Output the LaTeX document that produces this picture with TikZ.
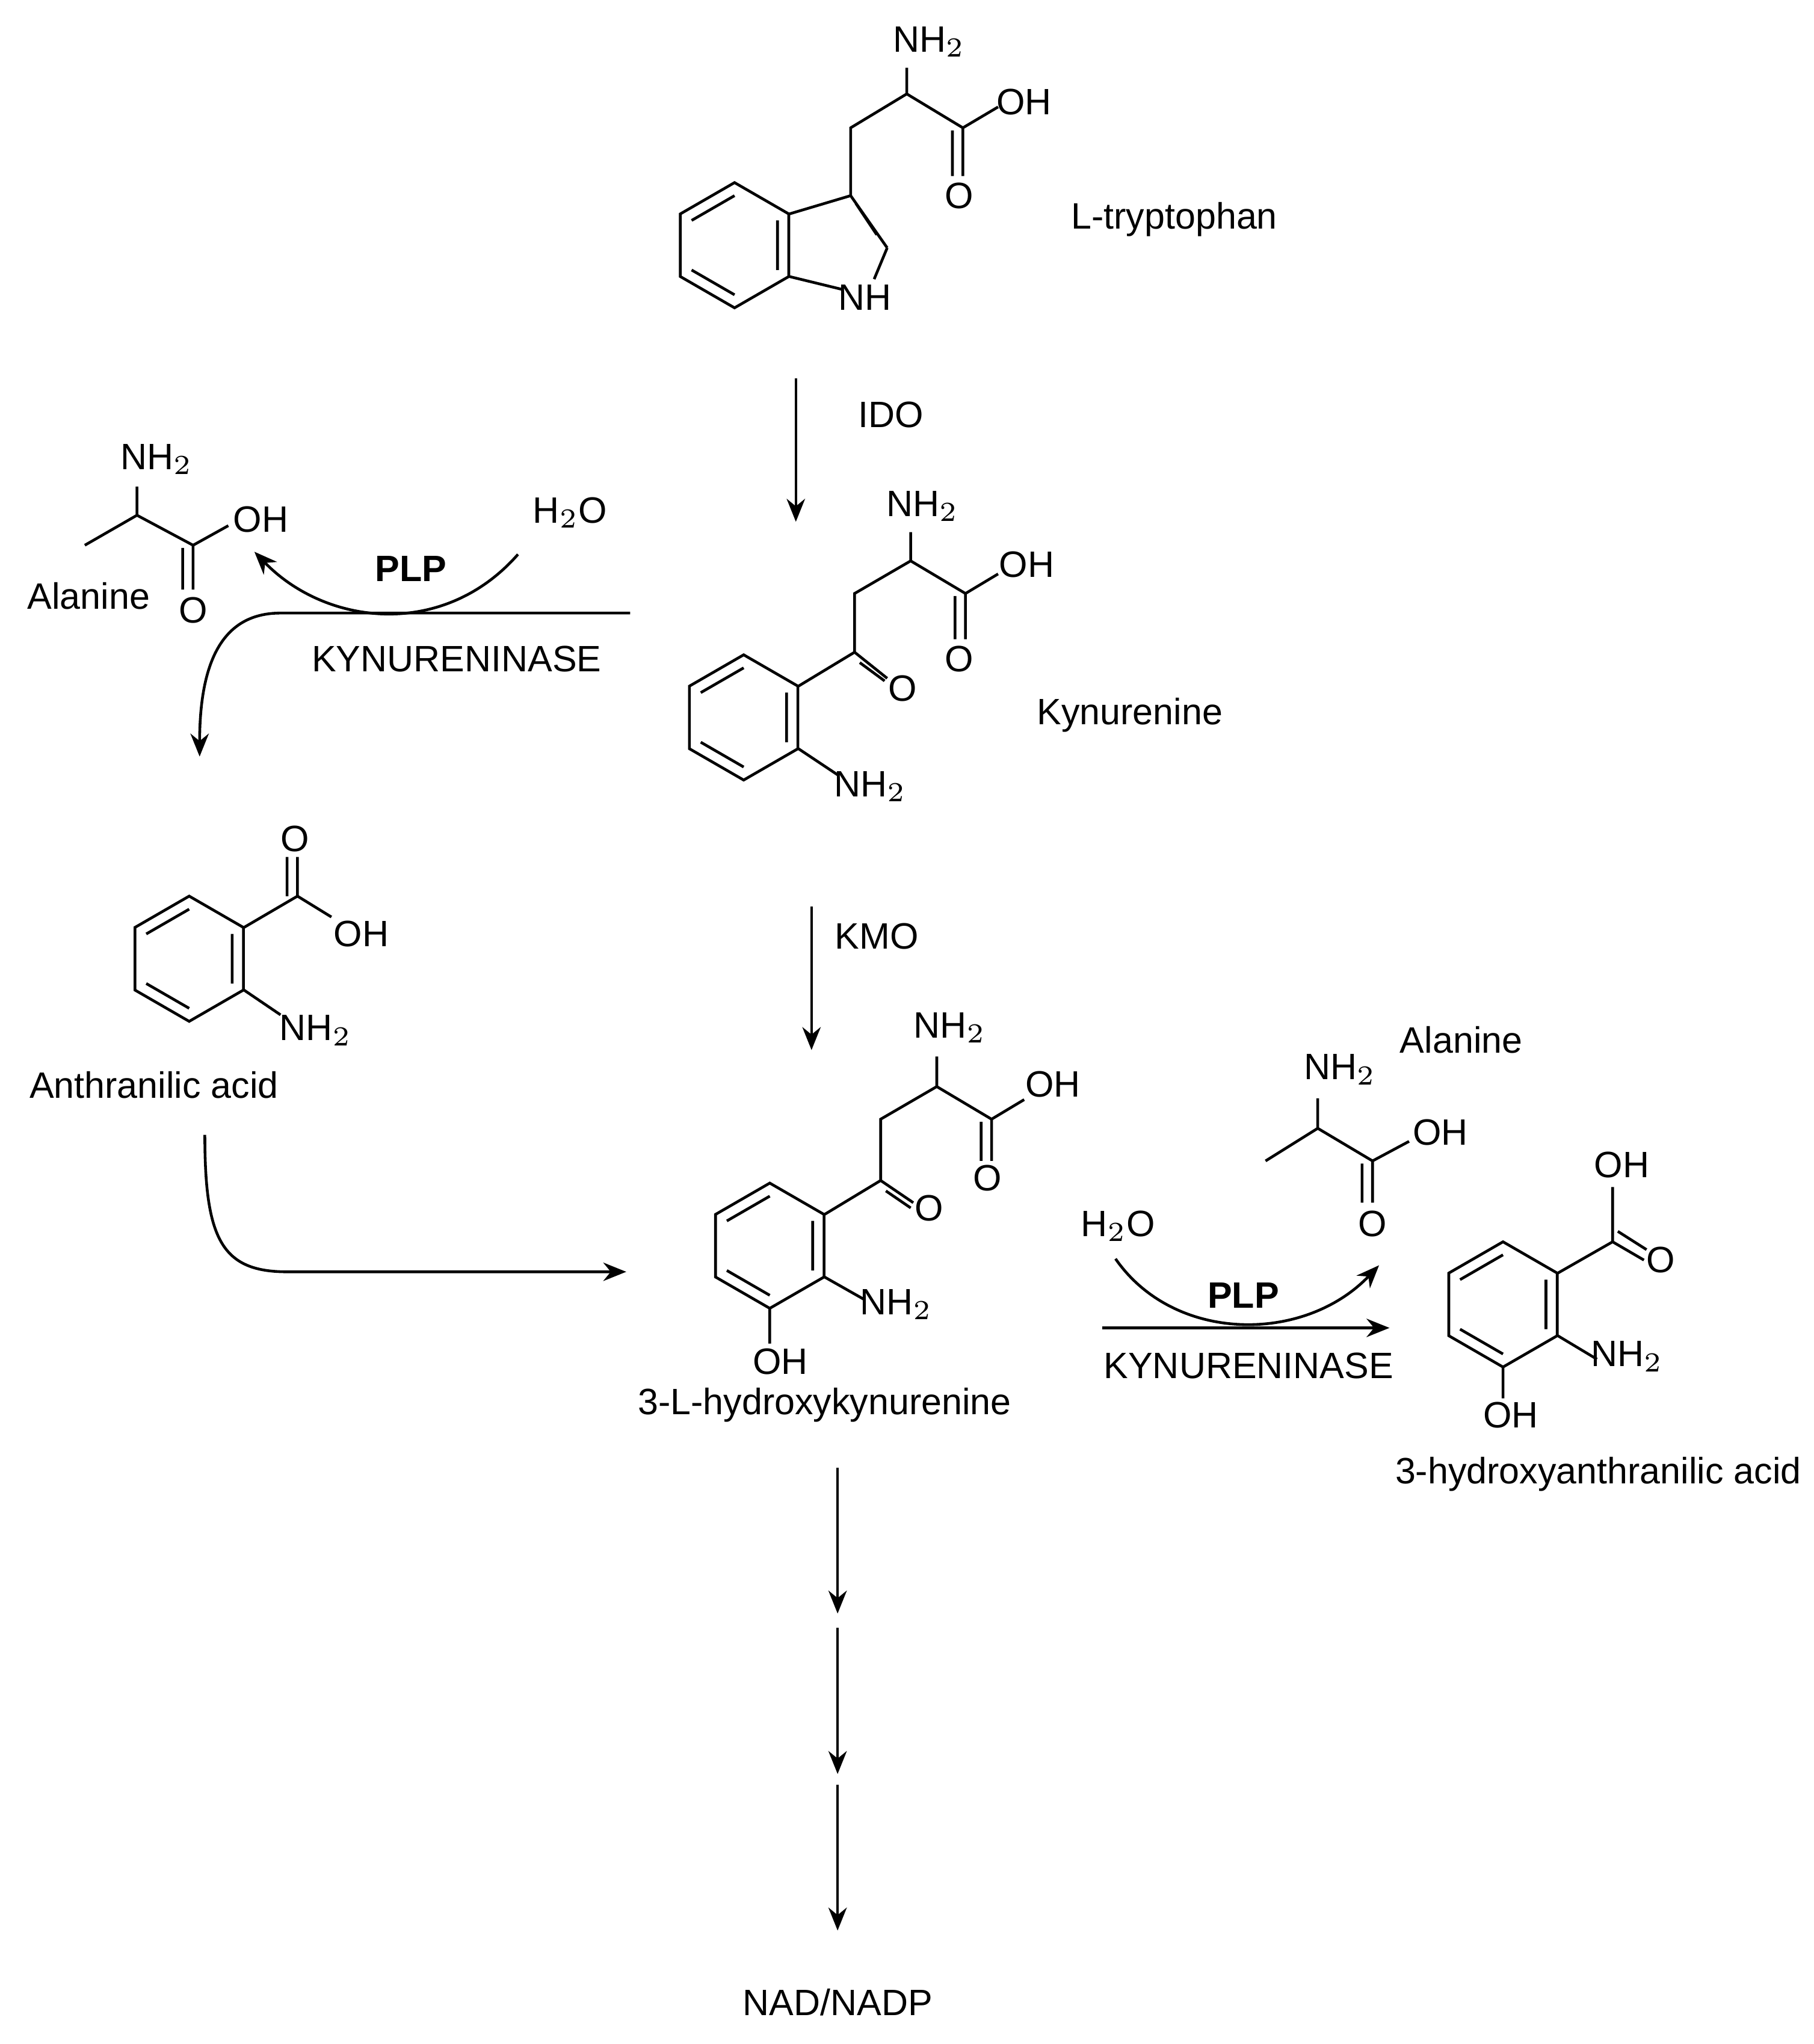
\documentclass[tikz,border=0pt]{standalone}
\usepackage{fontspec}
\setmainfont{Liberation Sans}
\usetikzlibrary{arrows.meta}
\begin{document}
\begin{tikzpicture}[x=0.01cm,y=-0.01cm,line width=0.6pt,
  lbl/.style={inner sep=0pt,font=\fontsize{8}{9}\selectfont},
  atm/.style={inner sep=0pt,font=\fontsize{8}{9}\selectfont},
  arr/.style={-{Stealth[length=5pt,width=4pt]}},
  ring/.pic={
    \draw (90:48)--(30:48)--(-30:48)--(-90:48)--(-150:48)--(150:48)--cycle;
    \draw (30:38)--(-30:38) (-90:38)--(-150:38) (150:38)--(90:38);
  }]
\useasboundingbox (0,0) rectangle (1390,1567);
% L-tryptophan
\pic at (563,188) {ring};
\draw (605,164)--(652,150) (652,150)--(680,190) (656,156)--(672,180) (680,190)--(670,214) (646,222)--(605,212);
\node[atm] (trpN) at (663,228) {NH};
\draw (652,150)--(652,98)--(695,72)--(738,98) (695,72)--(695,52) (738,98)--(765,82) (738,98)--(738,135) (730,100)--(730,135);
\node[atm] at (712,32) {NH$_2$};
\node[atm] at (785,78) {OH};
\node[atm] at (735,150) {O};
\node[lbl] (trp) at (900,168) {L-tryptophan};
% IDO
\coordinate (a1) at (610,290); \coordinate (a2) at (610,400);
\draw[arr] (a1)--(a2);
\node[lbl] at (683,318) {IDO};
% Kynurenine
\pic at (570,550) {ring};
\draw (612,526)--(655,500) (655,500)--(680,520) (659,508)--(678,522) (655,500)--(655,455)--(698,430)--(740,455) (698,430)--(698,408) (740,455)--(765,440) (740,455)--(740,490) (732,457)--(732,490) (612,574)--(642,594);
\node[atm] at (692,528) {O};
\node[atm] at (707,388) {NH$_2$};
\node[atm] at (787,433) {OH};
\node[atm] at (735,505) {O};
\node[atm] at (667,603) {NH$_2$};
\node[lbl] (kyn) at (866,548) {Kynurenine};
% left alanine
\draw (65,418)--(105,395)--(148,418) (105,395)--(105,373) (148,418)--(175,403) (148,418)--(148,452) (140,420)--(140,452);
\node[atm] at (120,352) {NH$_2$};
\node[atm] at (200,398) {OH};
\node[atm] at (148,468) {O};
\node[lbl] at (68,457) {Alanine};
\node[atm] at (437,393) {H$_2$O};
\node[lbl,font=\fontsize{8}{9}\selectfont\bfseries] at (315,436) {PLP};
\coordinate (c1) at (397,425); \coordinate (c2) at (195,423);
\draw[arr] (c1) .. controls (340,490) and (250,480) .. (c2);
\coordinate (d1) at (483,470); \coordinate (d2) at (153,580);
\draw[arr] (d1)--(215,470) .. controls (175,470) and (153,500) .. (d2);
\node[lbl] at (350,505) {KYNURENINASE};
% Anthranilic acid
\pic at (145,735) {ring};
\draw (187,711)--(228,687) (228,687)--(228,657) (220,687)--(220,657) (228,687)--(254,703) (187,759)--(215,778);
\node[atm] at (226,643) {O};
\node[atm] at (277,716) {OH};
\node[atm] at (242,790) {NH$_2$};
\node[lbl] (anth) at (118,832) {Anthranilic acid};
% KMO
\coordinate (b1) at (622,695); \coordinate (b2) at (622,805);
\draw[arr] (b1)--(b2);
\node[lbl] at (672,718) {KMO};
% 3-hydroxykynurenine
\pic at (590,955) {ring};
\draw (632,931)--(675,905) (675,905)--(700,922) (679,913)--(698,926) (675,905)--(675,858)--(718,833)--(760,858) (718,833)--(718,810) (760,858)--(785,843) (760,858)--(760,890) (752,860)--(752,890) (632,979)--(662,996) (590,1003)--(590,1030);
\node[atm] at (712,926) {O};
\node[atm] at (728,788) {NH$_2$};
\node[atm] at (807,831) {OH};
\node[atm] at (757,903) {O};
\node[atm] at (687,1000) {NH$_2$};
\node[atm] at (598,1044) {OH};
\node[lbl] (hk) at (632,1077) {3-L-hydroxykynurenine};
\coordinate (e1) at (157,870); \coordinate (e2) at (480,975);
\draw[arr] (e1) .. controls (157,950) and (170,975) .. (220,975) -- (e2);
% right reaction
\node[atm] at (857,940) {H$_2$O};
\node[lbl,font=\fontsize{8}{9}\selectfont\bfseries] at (953,993) {PLP};
\node[lbl] at (957,1047) {KYNURENINASE};
\coordinate (f1) at (845,1018); \coordinate (f2) at (1065,1018);
\draw[arr] (f1)--(f2);
\coordinate (g1) at (855,965); \coordinate (g2) at (1057,970);
\draw[arr] (g1) .. controls (900,1030) and (1000,1030) .. (g2);
% right alanine
\draw (970,890)--(1010,865)--(1052,890) (1010,865)--(1010,842) (1052,890)--(1080,875) (1052,890)--(1052,922) (1044,892)--(1044,922);
\node[atm] at (1027,820) {NH$_2$};
\node[atm] at (1104,868) {OH};
\node[atm] at (1052,938) {O};
\node[lbl] at (1120,797) {Alanine};
% 3-hydroxyanthranilic acid
\pic at (1152,1000) {ring};
\draw (1194,976)--(1236,952) (1236,952)--(1236,910) (1236,952)--(1260,966) (1240,944)--(1262,958) (1194,1024)--(1224,1042) (1152,1048)--(1152,1072);
\node[atm] at (1243,893) {OH};
\node[atm] at (1273,966) {O};
\node[atm] at (1247,1040) {NH$_2$};
\node[atm] at (1158,1085) {OH};
\node[lbl] at (1225,1130) {3-hydroxyanthranilic acid};
% down arrows
\coordinate (h1) at (642,1125); \coordinate (h2) at (642,1237);
\coordinate (h3) at (642,1248); \coordinate (h4) at (642,1360);
\coordinate (h5) at (642,1368); \coordinate (h6) at (642,1480);
\draw[arr] (h1)--(h2); \draw[arr] (h3)--(h4); \draw[arr] (h5)--(h6);
\node[lbl] (nad) at (642,1535) {NAD/NADP};
\end{tikzpicture}
\end{document}
